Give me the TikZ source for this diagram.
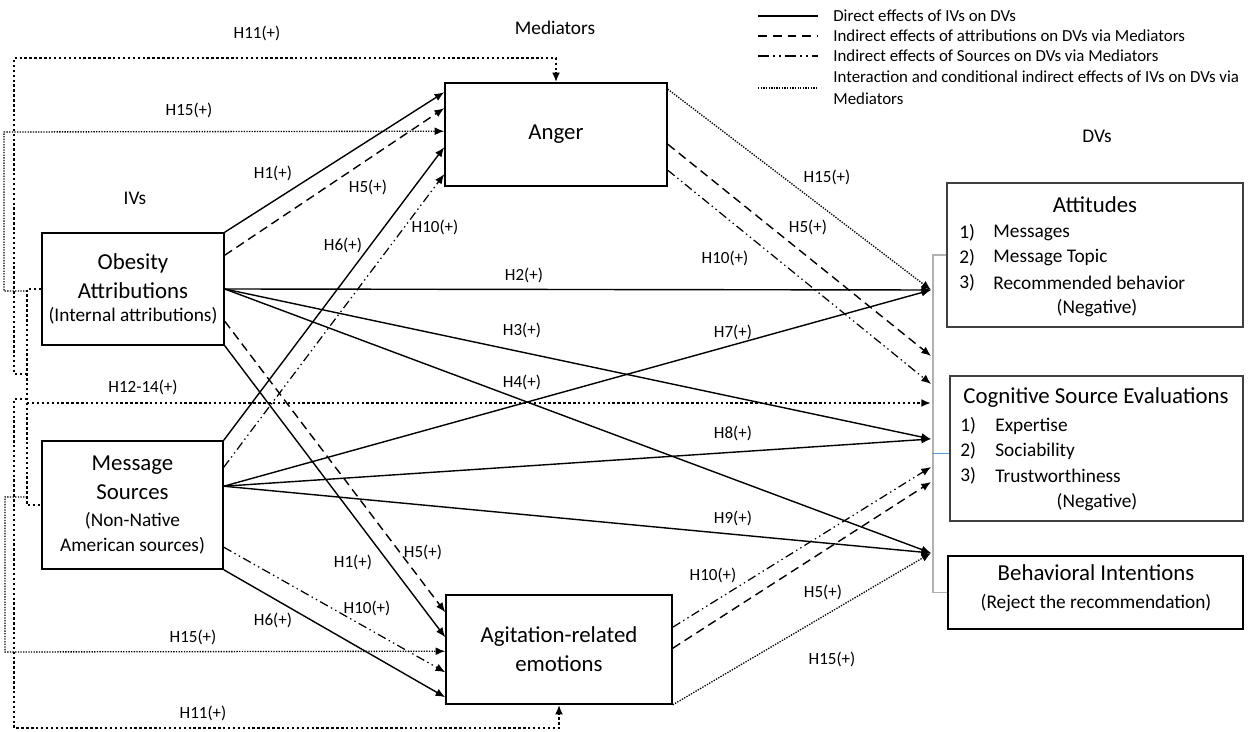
\documentclass[tikz,border=0pt]{standalone}
\usepackage{fontspec}
\setmainfont{Carlito}
\usetikzlibrary{arrows.meta,calc}
\definecolor{stubblue}{RGB}{91,155,213}

\begin{document}
\begin{tikzpicture}[x=0.02cm,y=-0.02cm,
    >={Latex[length=5.5pt,width=4.5pt]},
    box/.style={draw, line width=0.9pt, inner sep=2pt, align=center,
        font=\fontsize{13}{16.4}\selectfont},
    dvbox/.style={draw=black!75, line width=0.8pt},
    lbl/.style={font=\fontsize{9.7}{11}\selectfont, inner sep=0pt},
    head/.style={font=\fontsize{11}{13}\selectfont, inner sep=0pt},
    dvtitle/.style={font=\fontsize{13}{15}\selectfont, inner sep=0pt},
    item/.style={font=\fontsize{11}{13}\selectfont, inner sep=0pt, anchor=west},
    legtxt/.style={font=\fontsize{9.6}{12.3}\selectfont, inner sep=0pt, anchor=west, align=left},
    direct/.style={line width=0.8pt},
    viaattr/.style={line width=0.8pt, dash pattern=on 5pt off 3pt},
    viasrc/.style={line width=0.7pt, dash pattern=on 5pt off 2pt on 0.8pt off 2pt on 0.8pt off 2pt},
    inter/.style={line width=1.5pt, dash pattern=on 1.4pt off 1.4pt},
    cond/.style={line width=0.75pt, dash pattern=on 0.75pt off 0.75pt},
    ]
    \useasboundingbox (0,0) rectangle (1260,732);

    % Headings
    \node[head] (hmed) at (555,28) {Mediators};
    \node[head] (hiv) at (135,198) {IVs};
    \node[head] (hdv) at (1097,136) {DVs};

    % Mediators
    \node[box, minimum width=4.44cm, minimum height=2.06cm] (anger) at (556,134.5) {Anger};
    \node[box, minimum width=4.52cm, minimum height=2.18cm] (agit) at (559,649.5) {Agitation-related\\emotions};

    % IVs
    \node[box, minimum width=3.64cm, minimum height=2.24cm] (obes) at (133,289)
        {Obesity\\Attributions\\[-3pt]{\fontsize{11}{13}\selectfont(Internal attributions)}};
    \node[box, minimum width=3.62cm, minimum height=2.56cm] (src) at (132.5,505)
        {Message\\Sources\\[-1pt]{\fontsize{11}{13}\selectfont(Non-Native}\\[-2pt]{\fontsize{11}{13}\selectfont American sources)}};

    % DVs
    \node[dvbox, minimum width=5.92cm, minimum height=2.88cm] (att) at (1095,255) {};
    \node[dvtitle] (attT) at (1095,205) {Attitudes};
    \node[item] (att1n) at (959,233) {1)};
    \node[item] (att1) at (993,233) {Messages};
    \node[item] (att2n) at (959,258) {2)};
    \node[item] (att2) at (993,258) {Message Topic};
    \node[item] (att3n) at (959,283) {3)};
    \node[item] (att3) at (993,283) {Recommended behavior};
    \node[item, anchor=center] (attN) at (1097,308) {(Negative)};

    \node[dvbox, minimum width=5.86cm, minimum height=2.9cm] (cog) at (1096.5,448.5) {};
    \node[dvtitle] (cogT) at (1096,398) {Cognitive Source Evaluations};
    \node[item] (cog1n) at (960,426) {1)};
    \node[item] (cog1) at (995,426) {Expertise};
    \node[item] (cog2n) at (960,451) {2)};
    \node[item] (cog2) at (995,451) {Sociability};
    \node[item] (cog3n) at (960,476) {3)};
    \node[item] (cog3) at (995,476) {Trustworthiness};
    \node[item, anchor=center] (cogN) at (1097,502) {(Negative)};

    \node[draw, line width=0.9pt, minimum width=5.9cm, minimum height=1.46cm] (beh) at (1095.5,592.5) {};
    \node[dvtitle] (behT) at (1096,573) {Behavioral Intentions};
    \node[item, anchor=center] (behS) at (1096,603) {(Reject the recommendation)};

    % Bracket in front of the DVs
    \draw[gray!60, line width=0.8pt] (att.west) -| (933,592.5) -- (beh.west);
    \draw[stubblue, line width=0.6pt] ($(cog.west)+(0,5)$) -- ++(-17,0);

    % Arrow ends on the bracket
    \coordinate (inAtt) at (931,290);
    \coordinate (inAttr1) at (931,356);
    \coordinate (inSrc1) at (931,384);
    \coordinate (inInt) at (931,403);
    \coordinate (inCog) at (931,439);
    \coordinate (inSrc2) at (931,467);
    \coordinate (inAttr2) at (931,482);
    \coordinate (inBeh) at (931,553);

    % IVs to Anger
    \draw[->, direct] (obes.north east) -- ($(anger.north west)+(0,10)$);
    \draw[->, viaattr] ($(obes.north east)+(0,23)$) -- ($(anger.north west)+(0,26)$);
    \draw[->, direct] (src.north east) -- ($(anger.north west)+(0,65)$);
    \draw[->, viasrc] ($(src.north east)+(0,27)$) -- ($(anger.north west)+(0,92)$);

    % IVs to Agitation
    \draw[->, viaattr] ($(obes.north east)+(0,89)$) -- ($(agit.north west)+(0,18)$);
    \draw[->, direct] (obes.south east) -- ($(agit.north west)+(0,43)$);
    \draw[->, viasrc] ($(src.north east)+(0,107)$) -- ($(agit.north west)+(0,78)$);
    \draw[->, direct] (src.south east) -- ($(agit.north west)+(0,103)$);

    % IVs to DVs
    \draw[->, direct] (obes.east) -- (inAtt);
    \draw[->, direct] (obes.east) -- (inCog);
    \draw[->, direct] (obes.east) -- (inBeh);
    \draw[->, direct] ($(src.north east)+(0,46)$) -- (inAtt);
    \draw[->, direct] ($(src.north east)+(0,46)$) -- (inCog);
    \draw[->, direct] ($(src.north east)+(0,46)$) -- (inBeh);

    % Mediators to DVs
    \draw[->, cond] ($(anger.north east)+(0,7)$) -- (inAtt);
    \draw[->, viaattr] ($(anger.north east)+(0,62)$) -- (inAttr1);
    \draw[->, viasrc] ($(anger.north east)+(0,88)$) -- (inSrc1);
    \draw[->, viasrc] ($(agit.north east)+(0,33)$) -- (inSrc2);
    \draw[->, viaattr] ($(agit.north east)+(0,54)$) -- (inAttr2);
    \draw[->, cond] (agit.south east) -- (inBeh);

    % Interaction of the IVs
    \coordinate (jTop) at (27,289);
    \coordinate (jBot) at (27,505);
    \coordinate (jC) at (27,291);
    \coordinate (jA) at (27,374);
    \coordinate (jB) at (27,399);
    \coordinate (jMid) at (27,403);
    \coordinate (jD) at (27,497);
    \draw[inter] (obes.west) -- (jTop) -- (jBot) -- (src.west);
    \draw[->, inter] (jMid) -- (inInt);
    \draw[->, inter] (jA) -| (14,58) -| (anger.north);
    \draw[->, inter] (jB) -| (14,728) -| (agit.south);
    \draw[->, cond] (jC) -| (4,132) -- ($(anger.north west)+(0,49)$);
    \draw[->, cond] (jD) -| (5,652) -- ($(agit.north west)+(0,57)$);

    % Path labels
    \node[lbl] (l11a) at (257,33) {H11(+)};
    \node[lbl] (l15a) at (189,110) {H15(+)};
    \node[lbl] (l1a) at (273,173) {H1(+)};
    \node[lbl] (l5a) at (368,187) {H5(+)};
    \node[lbl] (l6a) at (343,245) {H6(+)};
    \node[lbl] (l10a) at (435,227) {H10(+)};
    \node[lbl] (l2) at (524,275) {H2(+)};
    \node[lbl] (l3) at (522,330) {H3(+)};
    \node[lbl] (l4) at (522,382) {H4(+)};
    \node[lbl] (l1214) at (143,387) {H12-14(+)};
    \node[lbl] (l7) at (733,332) {H7(+)};
    \node[lbl] (l8) at (733,433) {H8(+)};
    \node[lbl] (l9) at (733,518) {H9(+)};
    \node[lbl] (l10b) at (725,258) {H10(+)};
    \node[lbl] (l5b) at (808,227) {H5(+)};
    \node[lbl] (l15b) at (827,177) {H15(+)};
    \node[lbl] (l1c) at (353,562) {H1(+)};
    \node[lbl] (l5c) at (423,552) {H5(+)};
    \node[lbl] (l10c) at (367,608) {H10(+)};
    \node[lbl] (l6c) at (273,620) {H6(+)};
    \node[lbl] (l15c) at (193,637) {H15(+)};
    \node[lbl] (l11c) at (203,713) {H11(+)};
    \node[lbl] (l10d) at (713,575) {H10(+)};
    \node[lbl] (l5d) at (823,592) {H5(+)};
    \node[lbl] (l15d) at (832,659) {H15(+)};

    % Legend
    \node[legtxt] (leg1) at (833,16) {Direct effects of IVs on DVs};
    \node[legtxt] (leg2) at (833,36) {Indirect effects of attributions on DVs via Mediators};
    \node[legtxt] (leg3) at (833,56) {Indirect effects of Sources on DVs via Mediators};
    \node[legtxt] (leg4) at (833,88) {Interaction and conditional indirect effects of IVs on DVs via\\Mediators};
    \draw[line width=1pt] ($(leg1.west)+(-75,0)$) -- ($(leg1.west)+(-15,0)$);
    \draw[line width=1.2pt, dash pattern=on 5pt off 3.4pt] ($(leg2.west)+(-75,0)$) -- ($(leg2.west)+(-15,0)$);
    \draw[line width=1.2pt, dash pattern=on 6pt off 2.5pt on 1pt off 2.5pt on 1pt off 2.5pt] ($(leg3.west)+(-75,0)$) -- ($(leg3.west)+(-15,0)$);
    \draw[cond] ($(leg4.west)+(-75,0)$) -- ($(leg4.west)+(-15,0)$);
\end{tikzpicture}
\end{document}
